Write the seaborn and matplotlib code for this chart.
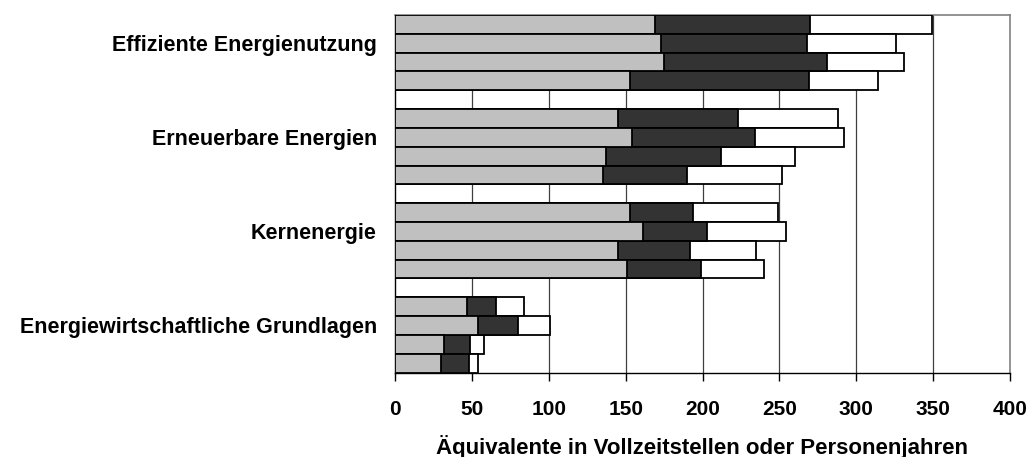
import matplotlib
matplotlib.use("Agg")
import matplotlib.pyplot as plt
import seaborn as sns
import pandas as pd
import numpy as np

categories = ["Effiziente Energienutzung", "Erneuerbare Energien",
              "Kernenergie", "Energiewirtschaftliche Grundlagen"]
# four bars per category (top to bottom), three stacked segments each
seg_light = [169, 173, 175, 153,
             145, 154, 137, 135,
             153, 161, 145, 151,
             47, 54, 32, 30]
seg_dark = [101, 95, 106, 116,
            78, 80, 75, 55,
            41, 42, 47, 48,
            19, 26, 17, 18]
seg_white = [79, 58, 50, 45,
             65, 58, 48, 62,
             55, 51, 43, 41,
             18, 21, 9, 6]
x_ticks = [0, 50, 100, 150, 200, 250, 300, 350, 400]
x_label = "Äquivalente in Vollzeitstellen oder Personenjahren"

sns.set_theme(style="white")
plt.rcParams["font.family"] = ["Liberation Sans", "DejaVu Sans"]
plt.rcParams["font.weight"] = "bold"
plt.rcParams["text.color"] = "black"
plt.rcParams["xtick.color"] = "black"
plt.rcParams["ytick.color"] = "black"
plt.rcParams["axes.labelcolor"] = "black"

n_per = 4
pos = [g * (n_per + 1) + b for g in range(len(categories)) for b in range(n_per)]
light = np.array(seg_light, dtype=float)
dark_cum = light + np.array(seg_dark, dtype=float)
total = dark_cum + np.array(seg_white, dtype=float)
df = pd.DataFrame({"pos": pos, "light": light, "dark": dark_cum, "total": total})

fig = plt.figure(figsize=(10.33, 4.57), dpi=100)
ax = fig.add_axes([395 / 1033, 1 - 372.5 / 457, 615 / 1033, 357.5 / 457])

for col, color in [("total", "white"), ("dark", "#333333"), ("light", "#c0c0c0")]:
    sns.barplot(data=df, x=col, y="pos", orient="h", native_scale=True,
                color=color, width=1.0, edgecolor="black", linewidth=1.3,
                saturation=1, ax=ax, zorder=3)

ax.set_xlim(0, 400)
ax.set_ylim(pos[-1] + 0.5, -0.5)
ax.set_xticks(x_ticks)
ax.set_xticklabels([str(t) for t in x_ticks], fontsize=15, fontweight="bold")
ax.set_yticks([g * (n_per + 1) + 1.0 for g in range(len(categories))])
ax.set_yticklabels(categories, fontsize=15.5, fontweight="bold")
ax.tick_params(axis="y", length=0, pad=13)
ax.tick_params(axis="x", length=6, width=1, direction="out", pad=14, color="black",
               bottom=True)
ax.set_xlabel(x_label, fontsize=16, fontweight="bold", labelpad=11)
ax.set_ylabel("")

ax.grid(False)
for t in x_ticks[1:-1]:
    ax.axvline(t, color="#404040", linewidth=0.9, zorder=1)

for s in ["top", "right"]:
    ax.spines[s].set_color("#808080")
    ax.spines[s].set_linewidth(1.2)
for s in ["bottom", "left"]:
    ax.spines[s].set_color("black")
    ax.spines[s].set_linewidth(1.0)
for s in ax.spines.values():
    s.set_visible(True)

fig.savefig("out.png", dpi=100)
